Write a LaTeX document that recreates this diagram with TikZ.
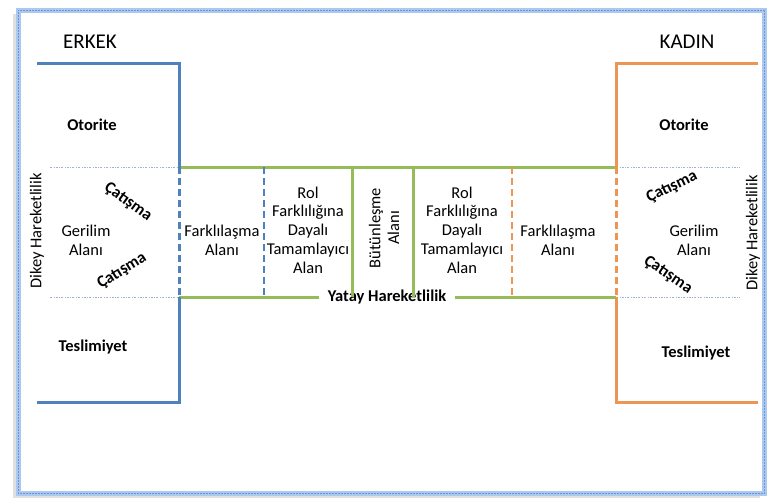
\documentclass[tikz,border=0pt]{standalone}
\usepackage{fontspec}
\setmainfont{Carlito}
\usetikzlibrary{positioning}

\definecolor{erkekblue}{RGB}{79,129,189}
\definecolor{kadinorange}{RGB}{235,150,85}
\definecolor{alangreen}{RGB}{150,188,90}
\definecolor{framelight}{RGB}{170,200,240}
\definecolor{framedark}{RGB}{110,150,215}
\definecolor{dotline}{RGB}{160,178,205}

\tikzset{
    lbl/.style={font=\fontsize{16.5}{18.7}\selectfont, align=center, inner sep=1pt},
    blbl/.style={font=\fontsize{16.5}{18.7}\selectfont\bfseries, align=center, inner sep=1pt},
    side/.style={font=\fontsize{21}{24}\selectfont, inner sep=1pt},
    bline/.style={erkekblue, line width=3pt},
    oline/.style={kadinorange, line width=3pt},
    gline/.style={alangreen, line width=3pt},
    dashline/.style={dash pattern=on 7pt off 4pt},
    dotsep/.style={dotline, line width=0.8pt, dash pattern=on 2pt off 1.5pt on 0.6pt off 1.5pt}
}

\begin{document}
\begin{tikzpicture}[x=1pt, y=-1pt]
    \useasboundingbox (0,0) rectangle (770,501);
    \fill[white] (0,0) rectangle (770,501);

    % Draw frame with shadow
    \fill[black!12] (13,14) rectangle (760,498);
    \fill[white] (18,10) rectangle (764,493);
    \draw[framelight, line width=5pt] (18,10) rectangle (764,493);
    \draw[framedark, line width=0.5pt, densely dotted] (18,10) rectangle (764,493);

    % Corner points of the two profiles
    \coordinate (bTop) at (37,63);
    \coordinate (bCorner) at (179,63);
    \coordinate (bMidA) at (179,167);
    \coordinate (bMidB) at (179,297);
    \coordinate (bBot) at (179,402);
    \coordinate (bEnd) at (37,402);
    \coordinate (oTop) at (758,63);
    \coordinate (oCorner) at (616,63);
    \coordinate (oMidA) at (616,167);
    \coordinate (oMidB) at (616,297);
    \coordinate (oBot) at (616,402);
    \coordinate (oEnd) at (758,402);

    % Dotted borders of the tension band
    \draw[dotsep] (50,167) -- (bMidA);
    \draw[dotsep] (50,297) -- (bMidB);
    \draw[dotsep] (oMidA) -- (740,167);
    \draw[dotsep] (oMidB) -- (740,297);

    % Horizontal mobility label
    \node[blbl, fill=white, inner xsep=9pt] (yatay) at (387,297) {Yatay Hareketlilik};

    % Draw green band
    \draw[gline] (bMidA) -- (oMidA);
    \draw[gline] (bMidB) -- (yatay.west);
    \draw[gline] (yatay.east) -- (oMidB);
    \foreach \x in {352,413}
        \draw[gline] (\x,167) -- (\x,297);

    % Dashed separators
    \draw[bline, line width=2.5pt, dashline] (264,167) -- (264,297);
    \draw[oline, line width=2.5pt, dashline] (512,167) -- (512,297);

    % Draw ERKEK profile
    \draw[bline] (bTop) -- (bCorner) -- (bMidA);
    \draw[bline, dashline] (bMidA) -- (bMidB);
    \draw[bline] (bMidB) -- (bBot) -- (bEnd);

    % Draw KADIN profile
    \draw[oline] (oTop) -- (oCorner) -- (oMidA);
    \draw[oline, dashline] (oMidA) -- (oMidB);
    \draw[oline] (oMidB) -- (oBot) -- (oEnd);

    % Titles
    \node[side] (erkek) at (90,42) {ERKEK};
    \node[side] (kadin) at (687,42) {KADIN};

    % Left labels
    \node[blbl] (otoriteL) at (92,125) {Otorite};
    \node[blbl] (teslimL) at (93,347) {Teslimiyet};
    \node[lbl] (gerilimL) at (86,240) {Gerilim\\Alanı};
    \node[blbl, rotate=-36] (catismaLA) at (128,202) {Çatışma};
    \node[blbl, rotate=32] (catismaLB) at (122,271) {Çatışma};
    \node[lbl, rotate=90] (dikeyL) at (37,231) {Dikey Hareketlilik};

    % Middle labels
    \node[lbl] (farkL) at (222,240) {Farklılaşma\\Alanı};
    \node[lbl] (rolL) at (308,230) {Rol\\Farklılığına\\Dayalı\\Tamamlayıcı\\Alan};
    \node[lbl, rotate=90] (butun) at (384,228) {Bütünleşme\\Alanı};
    \node[lbl] (rolR) at (462,230) {Rol\\Farklılığına\\Dayalı\\Tamamlayıcı\\Alan};
    \node[lbl] (farkR) at (558,240) {Farklılaşma\\Alanı};

    % Right labels
    \node[blbl] (otoriteR) at (684,125) {Otorite};
    \node[blbl] (teslimR) at (696,353) {Teslimiyet};
    \node[lbl] (gerilimR) at (694,240) {Gerilim\\Alanı};
    \node[blbl, rotate=26] (catismaRA) at (672,187) {Çatışma};
    \node[blbl, rotate=-34] (catismaRB) at (668,275) {Çatışma};
    \node[lbl, rotate=90] (dikeyR) at (753,233) {Dikey Hareketlilik};
\end{tikzpicture}
\end{document}
